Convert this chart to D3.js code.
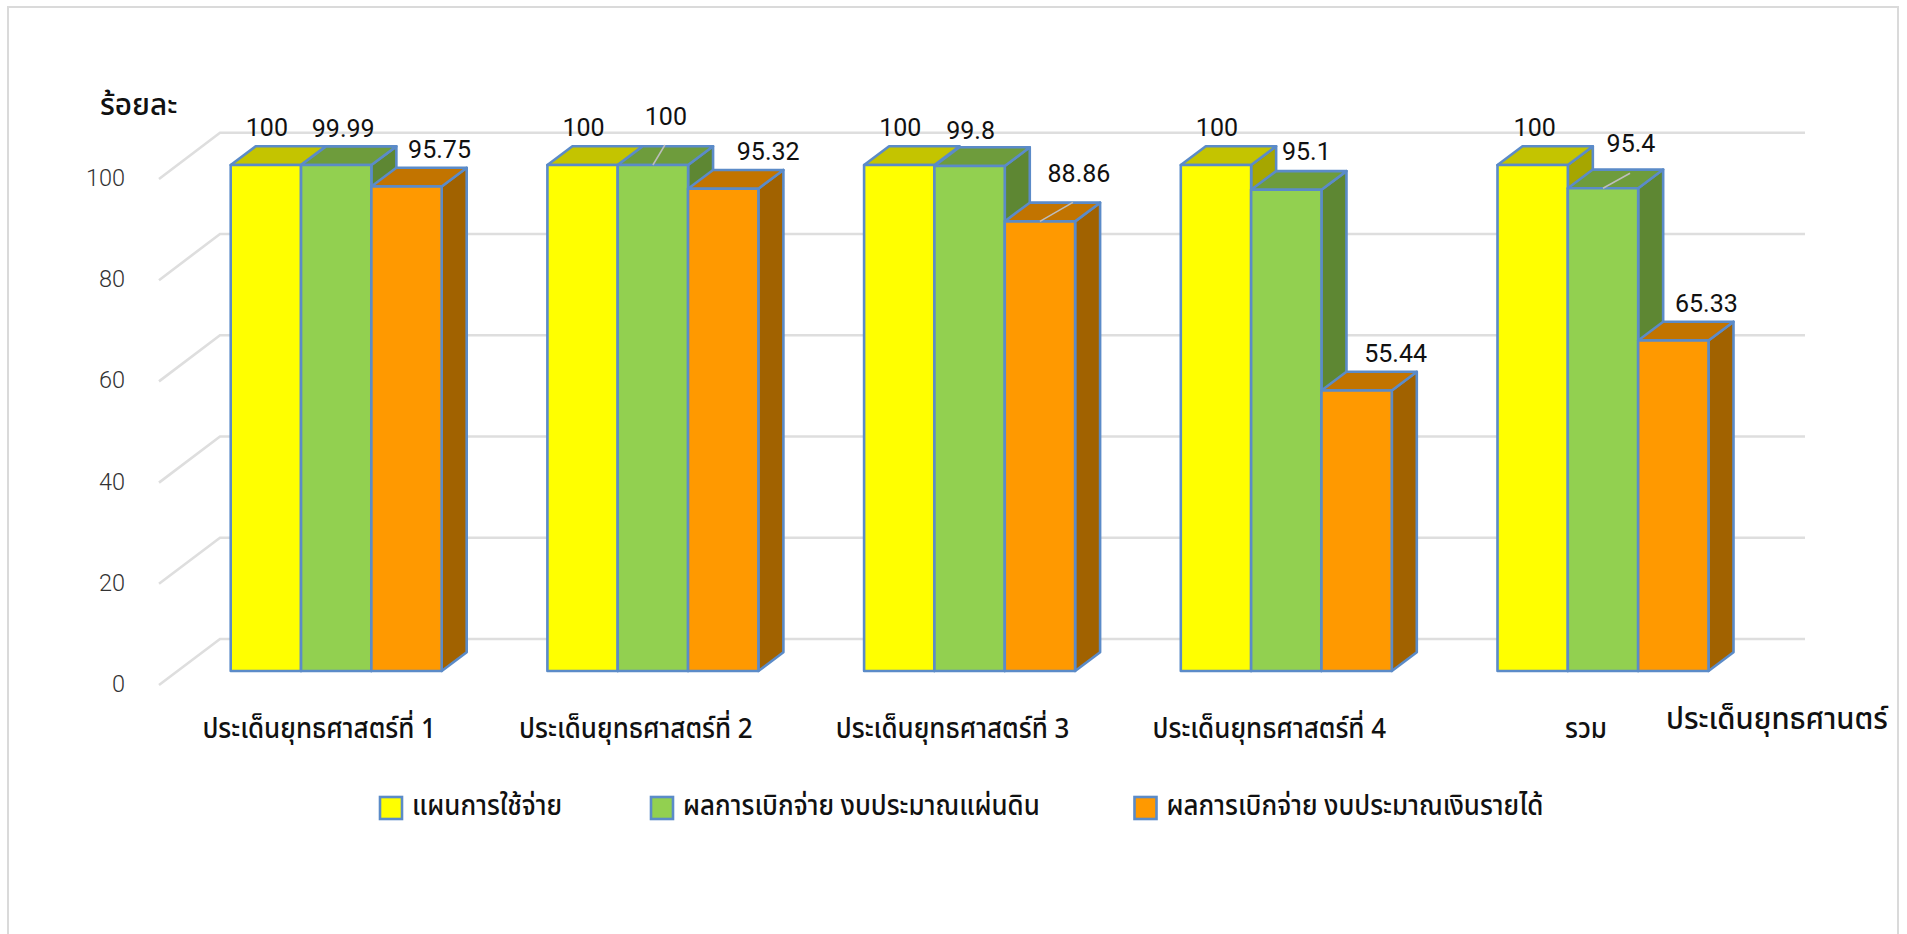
<!DOCTYPE html>
<html><head><meta charset="utf-8">
<script src="https://cdn.jsdelivr.net/npm/d3@7"></script>
<style>html,body{margin:0;padding:0;background:#fff}svg{display:block}
text{font-family:"Noto Sans Thai","Noto Sans Thai Looped","TH Sarabun New","Garuda","Loma","Roboto","Noto Sans",sans-serif;fill:#111}</style>
</head><body><svg id="c" width="1907" height="934"></svg>
<script>
const categories=["ประเด็นยุทธศาสตร์ที่ 1","ประเด็นยุทธศาสตร์ที่ 2","ประเด็นยุทธศาสตร์ที่ 3","ประเด็นยุทธศาสตร์ที่ 4","รวม"];
const seriesNames=["แผนการใช้จ่าย","ผลการเบิกจ่าย งบประมาณแผ่นดิน","ผลการเบิกจ่าย งบประมาณเงินรายได้"];
const planValues=[100,100,100,100,100];
const landBudgetValues=[99.99,100,99.8,95.1,95.4];
const incomeBudgetValues=[95.75,95.32,88.86,55.44,65.33];
const yTicks=[0,20,40,60,80,100];
const yTitle="ร้อยละ", xTitle="ประเด็นยุทธศานตร์";

const seriesValues=[planValues,landBudgetValues,incomeBudgetValues];
const palette=[
 {front:"#FFFF00",top:"#C4C400",side:"#A6A600"},
 {front:"#92D050",top:"#6E9C3C",side:"#5E8733"},
 {front:"#FF9900",top:"#C27400",side:"#A16200"}];
const edge="#5B8BC8", grid="#DEDEDE";
const labelNudge=[
 [[1,-37],[1,-37],[1,-37],[1,-37],[2,-37]],
 [[7,-37],[13,-48],[1,-36],[20,-38],[28,-45]],
 [[33,-37],[45,-37],[39,-48],[39,-37],[33,-37]]];
const leaders=[[1,1,12,-20],[2,2,33,-19],[1,4,27,-15]];

const svg=d3.select("#c");
const depthX=25, depthY=18.7;
const y=d3.scaleLinear().domain([0,100]).range([671,165]);
const yFront=d3.scaleLinear().domain([0,100]).range([684,178]);
const yBack=d3.scaleLinear().domain([0,100]).range([639,132.7]);
const gridFrontY=d3.scaleLinear().domain([0,100]).range([685,179]);
const xGroup=d3.scalePoint().domain(categories).range([230.7,1497.5]);
const xBar=d3.scaleBand().domain(d3.range(3)).range([0,211]);
const w=xBar.bandwidth();

svg.append("path").attr("d","M8,934V7H1898V934").attr("fill","none").attr("stroke","#DADADA").attr("stroke-width",2);

const gridG=svg.append("g").attr("fill","none").attr("stroke",grid).attr("stroke-width",2.6);
yTicks.forEach(t=>{
  gridG.append("path").attr("d",`M159,${gridFrontY(t)}L220,${yBack(t)}H1805`);
});

const axisG=svg.append("g").attr("transform","translate(125,0)")
  .call(d3.axisLeft(yFront).tickValues(yTicks).tickSize(0).tickPadding(0));
axisG.select(".domain").remove();
axisG.selectAll("text").attr("font-size",23.5).attr("font-weight",300)
  .style("font-family","Roboto,sans-serif").style("fill","#333");

categories.forEach((c,ci)=>{
  const g=svg.append("g");
  seriesValues.forEach((vals,si)=>{
    const v=vals[ci], x0=xGroup(c)+xBar(si), yt=y(v), yb=y(0), p=palette[si];
    const bar=g.append("g").attr("stroke",edge).attr("stroke-width",2.6).attr("stroke-linejoin","round");
    bar.append("path").attr("fill",p.side)
      .attr("d",`M${x0+w},${yt}l${depthX},${-depthY}V${yb-depthY}L${x0+w},${yb}Z`);
    bar.append("path").attr("fill",p.top)
      .attr("d",`M${x0},${yt}l${depthX},${-depthY}h${w}l${-depthX},${depthY}Z`);
    bar.append("rect").attr("x",x0).attr("y",yt).attr("width",w).attr("height",yb-yt).attr("fill",p.front);
  });
});

leaders.forEach(([si,ci,dx,dy])=>{
  const c=categories[ci], v=seriesValues[si][ci];
  svg.append("line").attr("x1",xGroup(c)+xBar(si)+w/2).attr("y1",y(v))
    .attr("x2",xGroup(c)+xBar(si)+w/2+dx).attr("y2",y(v)+dy)
    .attr("stroke","#BDBDBD").attr("stroke-width",1.5);
});

const tf=(x,yy,sx)=>`translate(${x},${yy}) scale(${sx},1)`;
seriesValues.forEach((vals,si)=>{
  svg.append("g").selectAll("text").data(vals).join("text")
    .attr("transform",(d,i)=>tf(xGroup(categories[i])+xBar(si)+w/2+labelNudge[si][i][0],y(d)+labelNudge[si][i][1],0.945))
    .attr("dy","0.32em").attr("text-anchor","middle").attr("font-size",26.5)
    .style("font-family","Roboto,sans-serif").text(d=>d);
});

svg.append("g").selectAll("text").data(categories).join("text")
  .attr("transform",d=>tf(xGroup(d)+xBar.step()*1.5-17,738,0.945))
  .attr("text-anchor","middle").attr("font-size",27.5).attr("font-weight",500).text(d=>d);

svg.append("text").attr("transform",tf(100,115,0.96)).attr("font-size",31).attr("font-weight",500).text(yTitle);
svg.append("text").attr("transform",tf(1666,729,0.945)).attr("font-size",31).attr("font-weight",500).text(xTitle);

const legendX=[380,651,1134.5];
const lg=svg.append("g").selectAll("g").data(seriesNames).join("g")
  .attr("transform",(d,i)=>`translate(${legendX[i]},797)`);
lg.append("rect").attr("width",22).attr("height",22).attr("fill",(d,i)=>palette[i].front)
  .attr("stroke",edge).attr("stroke-width",2.6);
lg.append("text").attr("transform",tf(32,18,0.925)).attr("font-size",28).attr("font-weight",500).text(d=>d);
</script></body></html>
